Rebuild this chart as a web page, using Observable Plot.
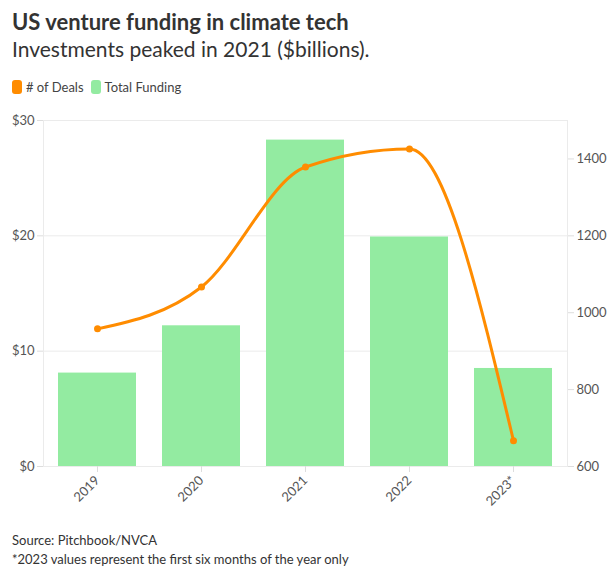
<!DOCTYPE html>
<html>
<head>
<meta charset="utf-8">
<script src="https://cdn.jsdelivr.net/npm/d3@7"></script>
<script src="https://cdn.jsdelivr.net/npm/@observablehq/plot@0.6"></script>
<style>
  body { margin: 0; background: #fff; font-family: Lato, "Noto Sans", sans-serif; color: #333; }
  #wrap { position: relative; width: 615px; height: 575px; }
  .title { position: absolute; left: 12px; top: 8px; font-size: 22px; font-weight: 700; color: #333; white-space: nowrap; }
  .subtitle { position: absolute; left: 12px; top: 36px; font-size: 21px; font-weight: 400; color: #333; white-space: nowrap; }
  .legend { position: absolute; left: 12px; top: 79px; font-size: 13px; color: #444; display: flex; align-items: center; }
  .legend .sw { display: inline-block; width: 10px; height: 14px; border-radius: 3px; margin-right: 4px; }
  .legend .item { display: flex; align-items: center; margin-right: 7px; }
  #chart { position: absolute; left: 0; top: 105px; }
  .caption { position: absolute; left: 12px; top: 531px; font-size: 13px; color: #333; line-height: 19px; }
</style>
</head>
<body>
<div id="wrap">
  <div class="title">US venture funding in climate tech</div>
  <div class="subtitle">Investments peaked in 2021 ($billions).</div>
  <div class="legend">
    <span class="item"><span class="sw" style="background:#ff8c00"></span># of Deals</span>
    <span class="item"><span class="sw" style="background:#93eba1"></span>Total Funding</span>
  </div>
  <div id="chart"></div>
  <div class="caption">Source: Pitchbook/NVCA<br>*2023 values represent the first six months of the year only</div>
</div>
<script>
const years = ["2019", "2020", "2021", "2022", "2023*"];
const funding = [8.1, 12.2, 28.3, 19.9, 8.5];
const deals = [958, 1067, 1379, 1426, 667];
const fundingTicks = [0, 10, 20, 30];
const dealTicks = [600, 800, 1000, 1200, 1400];

const dealMin = 600, dealMax = 1500, fMax = 30;
const toY = d => (d - dealMin) / (dealMax - dealMin) * fMax;
const fromY = v => String(Math.round(v / fMax * (dealMax - dealMin) + dealMin));

const data = years.map((y, i) => ({year: y, funding: funding[i], deals: deals[i]}));

const chart = Plot.plot({
  width: 615,
  height: 415,
  marginLeft: 43,
  marginRight: 48,
  marginTop: 15,
  marginBottom: 54,
  style: {fontFamily: "Lato, 'Noto Sans', sans-serif", fontSize: "13px", color: "#555", background: "#fff"},
  x: {domain: years, paddingInner: 0.25, paddingOuter: 0.125, label: null},
  y: {domain: [0, fMax], label: null},
  marks: [
    Plot.gridY(fundingTicks, {stroke: "#ebebeb", strokeOpacity: 1}),
    Plot.frame({stroke: "#ebebeb"}),
    Plot.barY(data, {x: "year", y: "funding", fill: "#93eba1"}),
    Plot.line(data, {x: "year", y: d => toY(d.deals), stroke: "#ff8c00", strokeWidth: 3, curve: "monotone-x"}),
    Plot.dot(data, {x: "year", y: d => toY(d.deals), fill: "#ff8c00", r: 3.5}),
    Plot.axisY(fundingTicks, {anchor: "left", tickFormat: d => "$" + d, tickSize: 6, stroke: "#dddddd", fill: "#555", label: null}),
    Plot.axisY(dealTicks.map(toY), {anchor: "right", tickFormat: fromY, tickSize: 6, stroke: "#dddddd", fill: "#555", label: null}),
    Plot.axisX({tickRotate: -45, tickSize: 6, stroke: "#dddddd", fill: "#555", label: null})
  ]
});
document.getElementById("chart").appendChild(chart);
</script>
</body>
</html>
